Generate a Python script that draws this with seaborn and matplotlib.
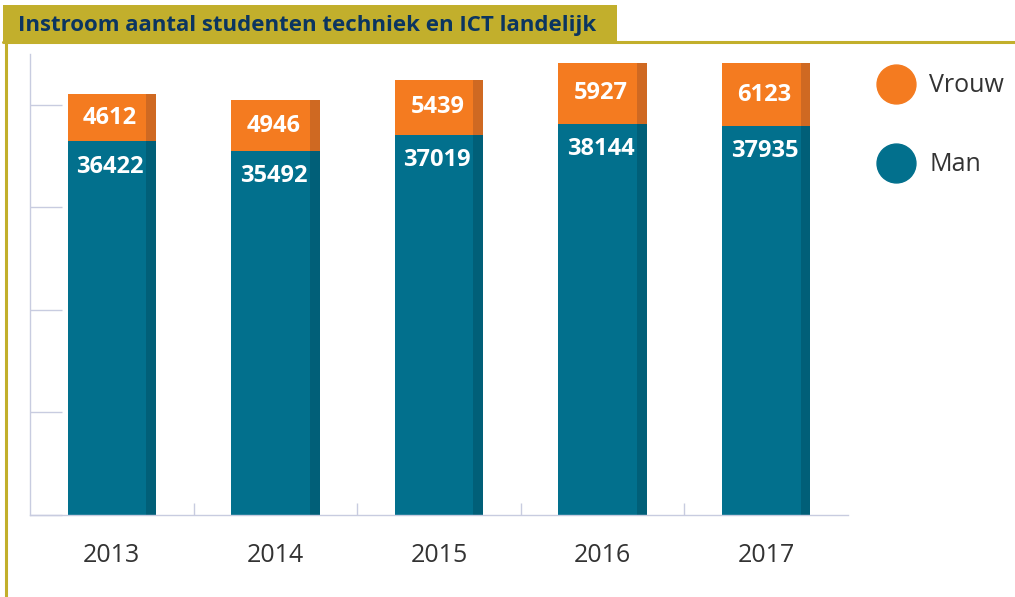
import pandas as pd
import matplotlib.pyplot as plt
import seaborn as sns
from matplotlib.lines import Line2D
from matplotlib.patches import Rectangle

years = ['2013', '2014', '2015', '2016', '2017']
man = [36422, 35492, 37019, 38144, 37935]
vrouw = [4612, 4946, 5439, 5927, 6123]

df = pd.DataFrame({'jaar': years, 'Man': man, 'Vrouw': vrouw})
df['totaal'] = df['Man'] + df['Vrouw']

oranje = '#F47B20'
oranje_d = '#CF6922'
blauw = '#02708D'
blauw_d = '#015F78'
lijn = '#C8CCE0'

sns.set_style('white')
plt.rcParams['font.family'] = ['Open Sans', 'DejaVu Sans']

fig = plt.figure(figsize=(10.15, 5.97), dpi=100)
ax = fig.add_axes([30 / 1015, 1 - 515 / 597, 818 / 1015, 461.5 / 597])

bw = 0.54
sns.barplot(data=df, x='jaar', y='totaal', color=oranje, width=bw, saturation=1,
            linewidth=0, edgecolor='none', ax=ax)
sns.barplot(data=df, x='jaar', y='Man', color=blauw, width=bw, saturation=1,
            linewidth=0, edgecolor='none', ax=ax)

# donkere rand rechts van elke balk
pos = range(len(years))
sw = 0.06
ax.bar([p + bw / 2 - sw / 2 for p in pos], df['totaal'], width=sw, color=oranje_d, linewidth=0)
ax.bar([p + bw / 2 - sw / 2 for p in pos], df['Man'], width=sw, color=blauw_d, linewidth=0)

for p, m, v in zip(pos, df['Man'], df['Vrouw']):
    ax.text(p - 0.01, m + v / 2, str(v), ha='center', va='center', color='white',
            fontsize=17, fontweight='bold')
    ax.text(p - 0.01, m - 2450, str(m), ha='center', va='center', color='white',
            fontsize=17, fontweight='bold')

ax.set_xlim(-0.5, 4.5)
ax.set_ylim(0, 45000)
ax.set_xlabel('')
ax.set_ylabel('')
ax.set_yticks([0, 10000, 20000, 30000, 40000])
ax.set_yticklabels([])
ax.tick_params(axis='y', direction='in', length=23, width=1, color=lijn, left=True)
ax.set_xticks([0.5, 1.5, 2.5, 3.5], minor=True)
ax.tick_params(axis='x', which='minor', direction='in', length=9, width=1, color=lijn, bottom=True)
ax.tick_params(axis='x', which='major', length=0, pad=20, labelsize=18, labelcolor='#333333')
for s in ['top', 'right']:
    ax.spines[s].set_visible(False)
for s in ['left', 'bottom']:
    ax.spines[s].set_color(lijn)
    ax.spines[s].set_linewidth(1)

# legenda
handles = [Line2D([], [], marker='o', ls='', markersize=28, color=oranje, label='Vrouw'),
           Line2D([], [], marker='o', ls='', markersize=28, color=blauw, label='Man')]
fig.legend(handles=handles, loc='upper left', bbox_to_anchor=(868 / 1015, 1 - 61 / 597),
           frameon=False, fontsize=18, labelcolor='#333333', labelspacing=2.15,
           handletextpad=0.75, handlelength=1.2, borderpad=0)

# titelbalk en kader
goud = '#C2AF2C'
fig.add_artist(Rectangle((3 / 1015, 1 - 43 / 597), 614 / 1015, 38 / 597,
                         transform=fig.transFigure, color=goud, lw=0))
fig.add_artist(Line2D([3 / 1015, 1], [1 - 42 / 597, 1 - 42 / 597], transform=fig.transFigure,
                      color=goud, lw=2.2))
fig.add_artist(Line2D([5.5 / 1015, 5.5 / 1015], [0, 1 - 42 / 597], transform=fig.transFigure,
                      color=goud, lw=2.2))
fig.text(18 / 1015, 1 - 25 / 597, 'Instroom aantal studenten techniek en ICT landelijk',
         ha='left', va='center', fontsize=16, fontweight='bold', color='#0B3560')

fig.savefig('out.png', dpi=100)
